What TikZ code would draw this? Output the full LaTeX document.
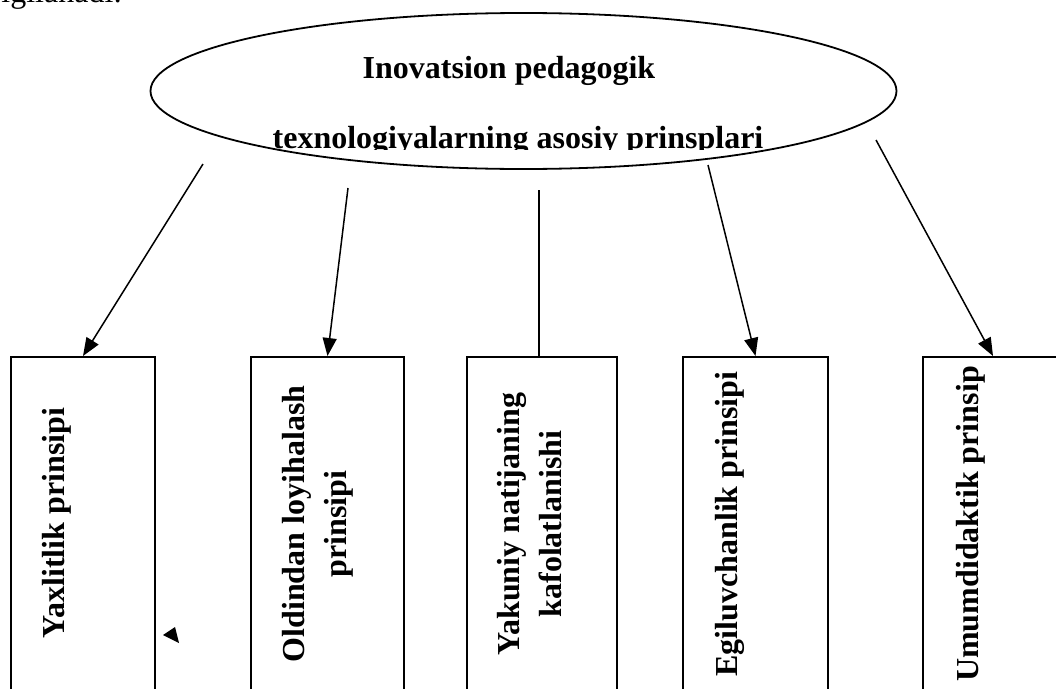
\documentclass[tikz,border=0pt]{standalone}
\usepackage{fontspec}
\setmainfont{Liberation Serif}
\usetikzlibrary{shapes.geometric,arrows.meta}
\begin{document}
\begin{tikzpicture}[x=1pt,y=-1pt,
  box/.style={draw,line width=1.8pt,minimum width=#1,minimum height=380pt,anchor=north,inner sep=0pt},
  lbl/.style={rotate=90,align=center,font=\fontsize{32}{42}\selectfont\bfseries,inner sep=0pt},
  ttl/.style={anchor=base,inner sep=0pt,font=\fontsize{32}{40}\selectfont\bfseries},
  conn/.style={line width=1.5pt},
  arr/.style={conn,-{Triangle[length=18pt,width=14pt]}},
]
\useasboundingbox (0,0) rectangle (1056,688);
\clip (0,0) rectangle (1056,688);
% clipped text of the previous line
\node[anchor=base west,inner sep=0pt,font=\fontsize{32}{38}\selectfont] (prev) at (-29,2) {belgilanadi:};
% ellipse
\node[draw,ellipse,line width=1.8pt,minimum width=746pt,minimum height=156pt,inner sep=0pt] (e) at (523.5,91) {};
\node[ttl] (t1) at (509,78) {Inovatsion pedagogik};
\begin{scope}
\clip (0,0) rectangle (1056,149);
\node[ttl] (t2) at (518,148) {texnologiyalarning asosiy prinsplari};
\end{scope}
% boxes
\node[box=144pt] (b1) at (83,356) {};
\node[box=153pt] (b2) at (327.5,356) {};
\node[box=150pt] (b3) at (542,356) {};
\node[box=145pt] (b4) at (755.5,356) {};
\node[box=140pt] (b5) at (993,356) {};
% labels
\node[lbl] (l1) at (57,523) {Yaxlitlik prinsipi};
\node[lbl] (l2) at (318,524) {Oldindan loyihalash\\prinsipi};
\node[lbl] (l3) at (530,524) {Yakuniy natijaning\\kafolatlanishi};
\node[lbl] (l4) at (730,524) {Egiluvchanlik prinsipi};
\node[lbl] (l5) at (971,524) {Umumdidaktik prinsip};
% connectors
\coordinate (s1) at (203,164);
\coordinate (s2) at (348,188);
\coordinate (s3) at (539,190);
\coordinate (s4) at (708,165);
\coordinate (s5) at (876,140);
\draw[arr] (s1) -- (b1.north);
\draw[arr] (s2) -- (b2.north);
\draw[conn] (s3) -- (b3.north -| s3);
\draw[arr] (s4) -- (b4.north);
\draw[arr] (s5) -- (b5.north);
% stray arrowhead
\fill (163,635) -- (175,627) -- (179,643) -- cycle;
\end{tikzpicture}
\end{document}
